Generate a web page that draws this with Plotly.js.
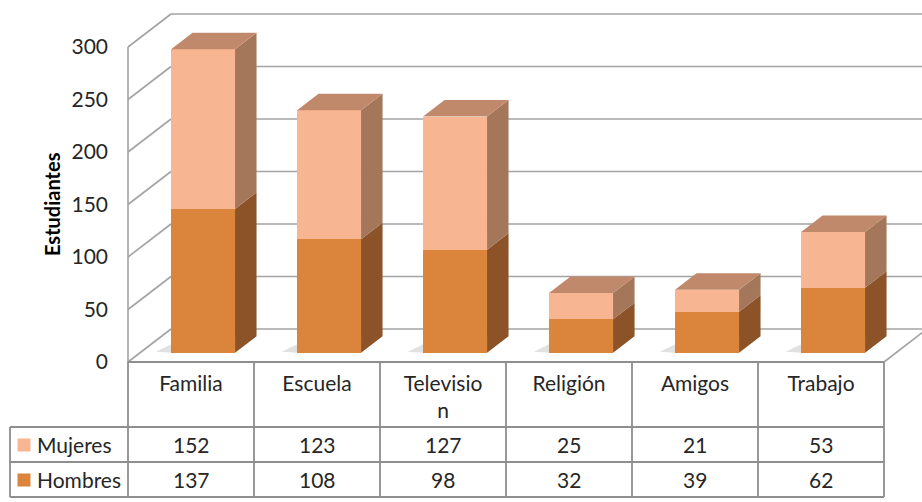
<!DOCTYPE html>
<html><head><meta charset="utf-8">
<script src="https://cdn.plot.ly/plotly-3.0.1.min.js"></script>
<style>html,body{margin:0;padding:0;background:#fff}#chart{width:922px;height:502px}</style>
</head><body><div id="chart"></div>
<script>
// ---- data ----
const categories = ['Familia','Escuela','Television','Religión','Amigos','Trabajo'];
const categoryLabels = ['Familia','Escuela','Televisio<br>n','Religión','Amigos','Trabajo'];
const seriesNames = ['Mujeres','Hombres'];
const mujeres = [152,123,127,25,21,53];
const hombres = [137,108,98,32,39,62];
const yTicks = [0,50,100,150,200,250,300];
const yTitle = 'Estudiantes';

// ---- geometry (pixels) ----
const W=922, H=502;
const X0=128, SLOT=126, Y0=362, VPX=1.05;
const DEPTH_X=43, DEPTH_Y=33;
const D_FRONT=0.28, D_BACK=0.78;
const BAR_W=64/SLOT;
const DU=DEPTH_X/SLOT, DV=DEPTH_Y/VPX;
const pxU = px => (px-X0)/SLOT - 0.5;
const pyV = py => (Y0-py)/VPX;
const P = (u,v,d) => [u+d*DU, v+d*DV];
const uRange=[pxU(0), pxU(W)], vRange=[pyV(H), pyV(0)];
const FONT='Lato, "Open Sans", sans-serif';
const FS=21;

const C = {mujF:'#F8B592', mujS:'#A4775A', homF:'#DA843C', homS:'#8B5327', top:'#C1896C',
           grid:'#a3a3a3', table:'#8e8e8e', text:'#262626', shadow:'rgba(90,90,90,0.18)'};

const path = pts => 'M' + pts.map(p=>p[0]+','+p[1]).join(' L') + ' Z';
const shapes = [];
const line = (a,b,color,width,layer) => shapes.push({type:'line', xref:'x2', yref:'y2',
  x0:a[0], y0:a[1], x1:b[0], y1:b[1], line:{color:color, width:width}, layer:layer||'below'});
const poly = (pts,fill,layer) => shapes.push({type:'path', xref:'x2', yref:'y2', path:path(pts),
  fillcolor:fill, line:{width:0}, layer:layer||'above'});

const vMax = yTicks[yTicks.length-1];
const uL = -0.5, uR = categories.length - 0.5;
// walls
yTicks.forEach(v => {
  line(P(uL,v,1), P(uR,v,1), C.grid, 1.6);
  line(P(uL,v,0), P(uL,v,1), C.grid, 1.6);
});
line(P(uL,0,0), P(uL,vMax,0), C.grid, 1.6);
line(P(uR,0,0), P(uR,0,1), C.grid, 1.6);

// bar shadows, side and top faces
categories.forEach((c,i) => {
  const h=hombres[i], m=mujeres[i], t=h+m;
  const l=i-BAR_W/2, r=i+BAR_W/2;
  poly([P(l,0,D_FRONT), P(l-0.13,0,D_FRONT+0.03), P(l-0.04,0,D_BACK), P(l,0,D_BACK)], C.shadow, 'below');
  poly([P(r,0,D_FRONT), P(r,0,D_BACK), P(r,h,D_BACK), P(r,h,D_FRONT)], C.homS);
  poly([P(r,h,D_FRONT), P(r,h,D_BACK), P(r,t,D_BACK), P(r,t,D_FRONT)], C.mujS);
  poly([P(l,t,D_FRONT), P(r,t,D_FRONT), P(r,t,D_BACK), P(l,t,D_BACK)], C.top);
});

// data table
const TBL_LEFT=10, ROW_TOP=[362,427,462,497];
const tl = (x0,y0,x1,y1) => line([pxU(x0),pyV(y0)],[pxU(x1),pyV(y1)], C.table, 1.8, 'above');
tl(X0,ROW_TOP[0],X0+SLOT*categories.length,ROW_TOP[0]);
for (let k=1;k<ROW_TOP.length;k++) tl(TBL_LEFT,ROW_TOP[k],X0+SLOT*categories.length,ROW_TOP[k]);
tl(TBL_LEFT,ROW_TOP[1],TBL_LEFT,ROW_TOP[3]);
for (let k=0;k<=categories.length;k++) tl(X0+SLOT*k,ROW_TOP[0],X0+SLOT*k,ROW_TOP[3]);

const annotations = [];
const rows = [{name:seriesNames[0], vals:mujeres, color:C.mujF}, {name:seriesNames[1], vals:hombres, color:C.homF}];
rows.forEach((row,r) => {
  const cy = (ROW_TOP[r+1]+ROW_TOP[r+2])/2;
  row.vals.forEach((val,i) => annotations.push({xref:'x2', yref:'y2', x:i, y:pyV(cy), text:String(val),
    showarrow:false, font:{family:FONT, size:FS, color:C.text}}));
  annotations.push({xref:'x2', yref:'y2', x:pxU(35), y:pyV(cy), xanchor:'left', text:row.name,
    showarrow:false, font:{family:FONT, size:FS, color:C.text}});
  shapes.push({type:'rect', xref:'x2', yref:'y2', x0:pxU(17.5), x1:pxU(30.5), y0:pyV(cy-6), y1:pyV(cy+7),
    fillcolor:row.color, line:{width:0}, layer:'above'});
});
annotations.push({xref:'x2', yref:'y2', x:pxU(52), y:pyV(204), text:'<b>'+yTitle+'</b>', textangle:-90,
  showarrow:false, font:{family:FONT, size:20, color:'#000'}});

const traces = [
  {type:'bar', name:seriesNames[1], x:categories, y:hombres, width:BAR_W, marker:{color:C.homF, line:{width:0}}, xaxis:'x', yaxis:'y'},
  {type:'bar', name:seriesNames[0], x:categories, y:mujeres, width:BAR_W, marker:{color:C.mujF, line:{width:0}}, xaxis:'x', yaxis:'y'},
  {type:'scatter', x:[], y:[], xaxis:'x2', yaxis:'y2', showlegend:false, hoverinfo:'skip'}
];

const layout = {
  width:W, height:H, margin:{l:0,r:0,t:0,b:0}, paper_bgcolor:'#fff', plot_bgcolor:'#fff',
  barmode:'stack', showlegend:false,
  xaxis:{type:'category', range:[uRange[0]-D_FRONT*DU, uRange[1]-D_FRONT*DU], visible:false, fixedrange:true},
  yaxis:{range:[vRange[0]-D_FRONT*DV, vRange[1]-D_FRONT*DV], visible:false, fixedrange:true},
  xaxis2:{overlaying:'x', anchor:'free', position:(H-Y0)/H, range:uRange, tickmode:'array',
    tickvals:categories.map((c,i)=>i), ticktext:categoryLabels, ticks:'', showgrid:false, zeroline:false,
    showline:false, ticklabelstandoff:7, tickfont:{family:FONT, size:FS, color:C.text}},
  yaxis2:{overlaying:'y', anchor:'free', position:X0/W, side:'left', range:vRange, tickmode:'array',
    tickvals:yTicks, ticks:'', showgrid:false, zeroline:false, showline:false, ticklabelstandoff:20,
    tickfont:{family:FONT, size:FS, color:C.text}},
  shapes:shapes, annotations:annotations
};
Plotly.newPlot('chart', traces, layout, {displayModeBar:false, staticPlot:true});
</script></body></html>
